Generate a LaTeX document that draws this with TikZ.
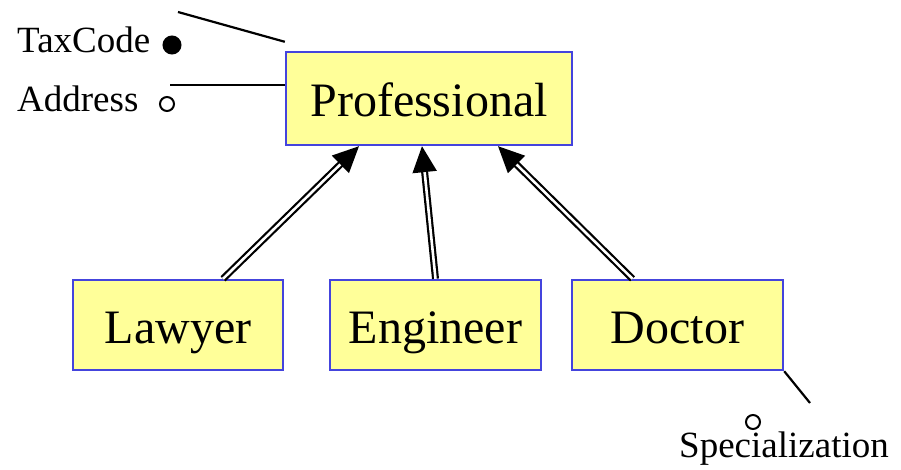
\documentclass[tikz,border=0pt]{standalone}
\usepackage{fontspec}
\setmainfont{Liberation Serif}
\usetikzlibrary{arrows.meta,calc,positioning}
\definecolor{cFill}{HTML}{FFFF99}
\definecolor{cEdge}{HTML}{4444DD}

\begin{document}
\begin{tikzpicture}[x=1pt,y=-1pt,
   cls/.style={draw=cEdge,fill=cFill,line width=2.4pt,inner sep=0pt,
     text height=36pt,text depth=0pt,font=\fontsize{48}{56}\selectfont},
   isa/.style={double,double distance=2.6pt,line width=2.2pt,
     -{Triangle[length=26pt,width=24pt]}},
   attr/.style={font=\fontsize{37}{44}\selectfont,inner sep=0pt},
   dot/.style={circle,draw,line width=2pt,inner sep=0pt,minimum size=#1},
   link/.style={line width=2.2pt}]
  \useasboundingbox (0,0) rectangle (901,470);
  % classes
  \node[cls,minimum width=286pt,minimum height=93pt] (prof) at (429,98.5) {Professional};
  \node[cls,minimum width=210pt,minimum height=90pt] (lawyer) at (178,325) {Lawyer};
  \node[cls,minimum width=211pt,minimum height=90pt] (engineer) at (435.5,325) {Engineer};
  \node[cls,minimum width=211pt,minimum height=90pt] (doctor) at (677.5,325) {Doctor};
  % generalization
  \draw[isa] ([xshift=45pt]lawyer.north) -- ([xshift=-70pt]prof.south);
  \draw[isa] ([xshift=0pt]engineer.north) -- ([xshift=-7pt]prof.south);
  \draw[isa] ([xshift=-45pt]doctor.north) -- ([xshift=69pt]prof.south);
  % attributes of Professional
  \node[attr,anchor=base west] (tax) at (17,53) {TaxCode};
  \node[dot=17pt,fill=black] (taxdot) at (172,45) {};
  \coordinate (taxend) at (178,12);
  \draw[link] (taxend) -- ([yshift=9pt]prof.north west);
  \node[attr,anchor=base west] (addr) at (17,112) {Address};
  \node[dot=14pt] (addrdot) at (167,104) {};
  \coordinate (addrend) at (170,85);
  \draw[link] (addrend) -- (addrend -| prof.west);
  % attribute of Doctor
  \coordinate (specend) at (810,403);
  \draw[link] (doctor.south east) -- (specend);
  \node[dot=14pt] (specdot) at (753,422) {};
  \node[attr,anchor=base] (spec) at (784,457) {Specialization};
\end{tikzpicture}
\end{document}
